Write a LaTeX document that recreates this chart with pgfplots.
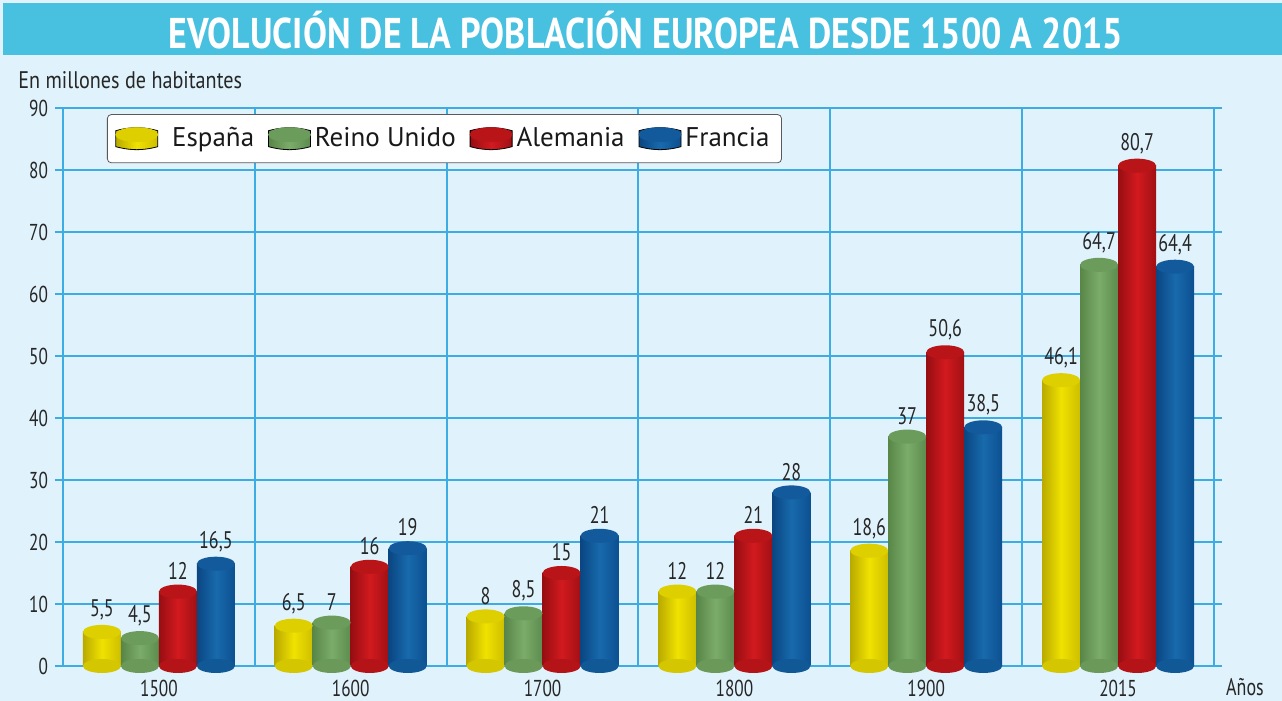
\documentclass[border=0pt]{standalone}
\usepackage{fontspec}
\setmainfont{PT Sans}
\newfontfamily\cond[FakeStretch=0.75]{PT Sans}
\newfontfamily\condlab[FakeStretch=0.84]{PT Sans}
\newfontfamily\condtitle[FakeStretch=0.835]{PT Sans Bold}
\usepackage{pgfplots}
\usepackage{pgfplotstable}
\pgfplotsset{compat=1.18}
\definecolor{gridblue}{RGB}{60,172,226}
\definecolor{band}{RGB}{72,193,224}
\definecolor{bgblue}{RGB}{224,242,251}
\definecolor{yL}{RGB}{185,170,0}\definecolor{yM}{RGB}{240,226,0}\definecolor{yR}{RGB}{205,190,0}\definecolor{yC}{RGB}{222,208,0}
\definecolor{gL}{RGB}{88,134,72}\definecolor{gM}{RGB}{124,172,106}\definecolor{gR}{RGB}{92,140,78}\definecolor{gC}{RGB}{108,156,92}
\definecolor{rL}{RGB}{150,14,18}\definecolor{rM}{RGB}{210,26,31}\definecolor{rR}{RGB}{160,16,20}\definecolor{rC}{RGB}{185,20,24}
\definecolor{bL}{RGB}{10,70,130}\definecolor{bM}{RGB}{24,106,172}\definecolor{bR}{RGB}{12,80,145}\definecolor{bC}{RGB}{18,90,155}
\pgfdeclareplotmark{cylcap}{\pgfpathellipse{\pgfpointorigin}{\pgfqpoint{9.5pt}{0pt}}{\pgfqpoint{0pt}{3.5pt}}\pgfusepathqfill}
\newcommand{\legcyl}[4]{%
  \shade[left color=#1, right color=#3, middle color=#2] (0pt,2pt) -- (0pt,-2pt) arc (180:360:10.5pt and 3.5pt) -- (21pt,2pt) arc (0:180:10.5pt and 3.5pt) -- cycle;
  \fill[#4] (10.5pt,2pt) ellipse (10.5pt and 3.5pt);}
\pgfplotstableread{
x sp uk de fr
0 5.5 4.5 12 16.5
1 6.5 7 16 19
2 8 8.5 15 21
3 12 12 21 28
4 18.6 37 50.6 38.5
5 46.1 64.7 80.7 64.4
}\data
% #1 column, #2 shift, #3 L, #4 M, #5 R, #6 cap
\newcommand{\series}[6]{%
  \addplot[only marks, mark=cylcap, mark options={xshift=#2, fill=#3!50!#4, draw=none}, forget plot] table[x=x, y expr=0] {\data};
  \pgfplotsinvokeforeach{0,...,5}{%
    \addplot[ybar, bar width=19pt, bar shift=#2, draw=none, left color=#3, right color=#5, middle color=#4, forget plot,
      restrict x to domain=##1:##1] table[x=x, y=#1] {\data};}
  \addplot[only marks, mark=cylcap, mark options={xshift=#2, fill=#6, draw=none}, forget plot,
    nodes near coords] table[x=x, y=#1] {\data};}
\begin{document}
\begin{tikzpicture}
\path[use as bounding box] (0,0) rectangle (641pt,350.5pt);
\fill[bgblue] (0,0) rectangle (641pt,350.5pt);
\fill[band] (1.5pt,323pt) rectangle (641pt,349pt);
\node[text=white, font=\condtitle\fontsize{21.5}{24}\selectfont] at (323pt,335.5pt) {EVOLUCIÓN DE LA POBLACIÓN EUROPEA DESDE 1500 A 2015};
\node[anchor=west, inner sep=0pt, font=\condlab\fontsize{12}{13}\selectfont, text=black!85] at (9pt,310.5pt) {En millones de habitantes};
\node[inner sep=0pt, font=\cond\fontsize{12}{13}\selectfont, text=black!85] at (622.5pt,7pt) {Años};
\begin{axis}[
  at={(31.5pt,17.5pt)}, anchor=south west,
  scale only axis, width=575.5pt, height=279pt,
  xmin=-0.5, xmax=5.5, ymin=0, ymax=90,
  clip=false,
  xtick={0,...,5}, xticklabels={1500,1600,1700,1800,1900,2015},
  minor xtick={0.5,1.5,2.5,3.5,4.5},
  ytick={0,10,...,90},
  xminorgrids=true, ymajorgrids=true,
  tick align=outside, major tick length=4pt, minor tick length=0pt,
  ytick style={draw=gridblue, line width=1pt},
  xtick style={draw=none},
  grid style={draw=gridblue, line width=1pt},
  minor grid style={draw=gridblue, line width=1pt},
  axis line style={draw=gridblue, line width=1pt},
  axis background/.style={fill=bgblue},
  tick label style={font=\cond\fontsize{11.5}{13}\selectfont, text=black!85},
  xticklabel style={yshift=0.5pt},
  every node near coord/.append style={font=\cond\fontsize{12}{13}\selectfont, text=black!85, yshift=2.5pt},
  legend style={at={(0.0382,0.989)}, anchor=north west, legend columns=4, draw=black!65, rounded corners=2pt, fill=white, font=\fontsize{13.5}{15}\selectfont, text=black!90, /tikz/every even column/.append style={column sep=5pt}, inner xsep=4pt, inner ysep=4.5pt},
  legend cell align=left,
  /pgf/number format/use comma, /pgf/number format/1000 sep={}, /pgf/number format/assume math mode=true,
]
\series{sp}{-28.5pt}{yL}{yM}{yR}{yC}
\series{uk}{-9.5pt}{gL}{gM}{gR}{gC}
\series{de}{9.5pt}{rL}{rM}{rR}{rC}
\series{fr}{28.5pt}{bL}{bM}{bR}{bC}
\addlegendimage{legend image code/.code={\legcyl{yL}{yM}{yR}{yC}}}
\addlegendentry{\hspace{5pt}España}
\addlegendimage{legend image code/.code={\legcyl{gL}{gM}{gR}{gC}}}
\addlegendentry{Reino Unido}
\addlegendimage{legend image code/.code={\legcyl{rL}{rM}{rR}{rC}}}
\addlegendentry{Alemania}
\addlegendimage{legend image code/.code={\legcyl{bL}{bM}{bR}{bC}}}
\addlegendentry{Francia}
\end{axis}
\end{tikzpicture}
\end{document}
